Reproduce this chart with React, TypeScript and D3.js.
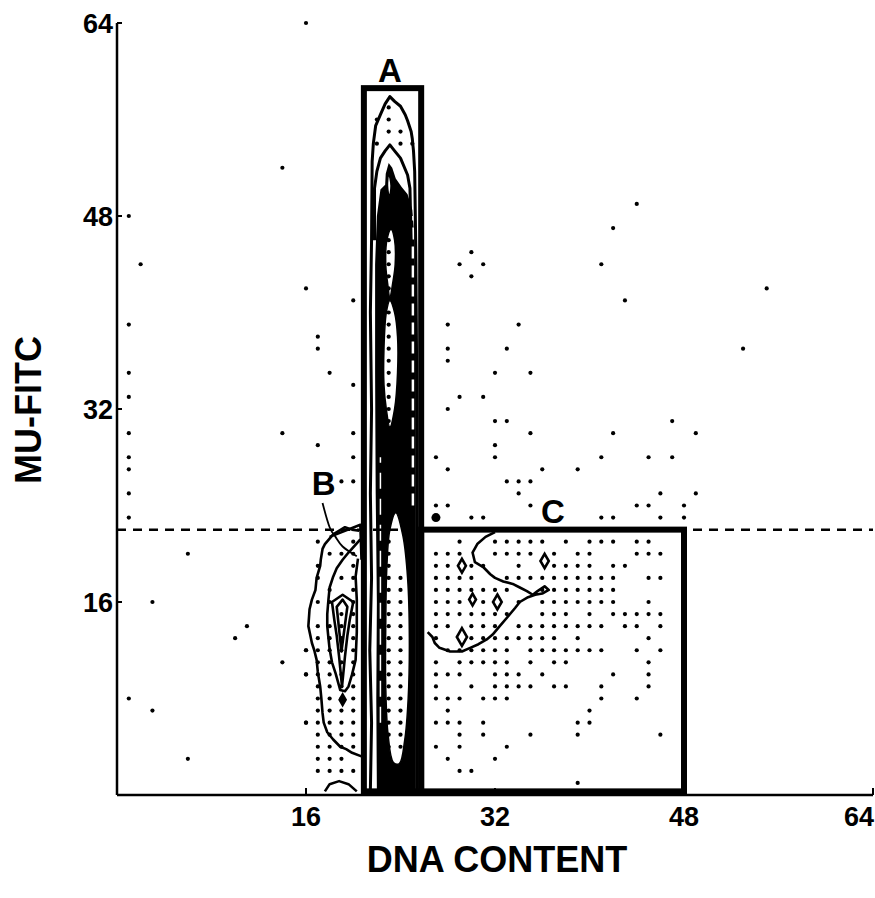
import React from "react";
import * as d3 from "d3";

type P = [number, number];

const W = 875;
const H = 898;
const xTicks = [16, 32, 48, 64];
const yTicks = [16, 32, 48, 64];
const xTitle = "DNA CONTENT";
const yTitle = "MU-FITC";

// gates in channel units: [xmin, xmax, ymin, ymax]
const gateA = [20.9, 25.75, 0.3, 58.6];
const gateC = [25.75, 48, 0.3, 22];
const threshold = 22;
const gateLabels: [string, number, number][] = [
  ["A", 23.1, 59.1],
  ["B", 17.5, 24.9],
  ["C", 36.9, 22.55],
];

// sparse single events
const sparseDots: P[] = [
  [44, 49], [42, 47], [30, 45], [29, 44], [31, 44], [30, 43], [41, 44], [43, 41], [55, 42],
  [28, 39], [34, 39], [28, 37], [33, 37], [53, 37], [28, 36], [32, 35], [35, 35], [29, 33],
  [31, 33], [28, 32], [32, 31], [33, 31], [47, 31], [42, 30], [49, 30], [35, 30], [32, 29],
  [27, 28], [32, 28], [41, 28], [45, 28], [47, 28], [28, 27], [36, 27], [39, 27], [33, 26],
  [34, 26], [35, 26], [34, 25], [46, 25], [49, 25], [27, 24], [28, 24], [35, 24], [44, 24],
  [45, 24], [48, 24], [30, 23], [31, 23], [41, 23], [42, 23], [46, 23], [48, 23],
  [16, 64], [14, 52], [1, 48], [2, 44], [16, 42], [20, 41], [1, 39], [17, 38], [17, 37],
  [1, 35], [18, 35], [1, 33], [20, 34], [1, 30], [14, 30], [20, 30], [17, 29], [1, 28],
  [20, 28], [1, 27], [19, 26], [20, 26], [1, 25], [1, 23],
  [6, 20], [3, 16], [11, 14], [10, 13], [14, 11], [16, 12], [16, 10], [1, 8], [3, 7], [16, 6], [6, 3],
];
const bigDots: P[] = [[27, 23]];

// population B events, per row: [channel y, channels x]
const dotsB: [number, number[]][] = [
  [21, [17, 20]], [20, [18, 19, 20]], [19, [17, 20]], [18, [17, 19, 20]], [17, [18, 20]],
  [16, [17, 18, 20]], [15, [19, 20]], [14, [17, 18, 19, 20]], [13, [17, 18, 19, 20]],
  [12, [16, 17, 18, 19, 20]], [11, [17, 18, 19, 20]], [10, [16, 17, 18, 19, 20]],
  [9, [17, 18, 19, 20]], [8, [17, 18, 19, 20]], [7, [17, 18, 19, 20]], [6, [16, 17, 18, 19, 20]],
  [5, [17, 18, 19, 20]], [4, [17, 18, 19, 20]], [3, [17, 18, 19]], [2, [17, 18, 19, 20]],
];

// population C events
const dotsC: [number, number[]][] = [
  [21, [29, 32, 33, 34, 35, 36, 38, 40, 41, 42, 44, 45]],
  [20, [27, 28, 29, 32, 33, 34, 35, 37, 39, 40, 44, 45, 46]],
  [19, [27, 28, 30, 31, 34, 37, 38, 39, 40, 42, 43]],
  [18, [27, 28, 29, 30, 33, 34, 35, 36, 37, 38, 39, 40, 41, 42, 45, 46]],
  [17, [27, 28, 29, 30, 31, 32, 33, 36, 37, 38, 39, 40, 41, 42]],
  [16, [27, 28, 29, 31, 34, 36, 37, 38, 39, 40, 41, 42, 45]],
  [15, [27, 28, 29, 30, 31, 32, 33, 36, 37, 38, 40, 42, 43, 44, 45, 46]],
  [14, [27, 28, 30, 31, 32, 34, 35, 36, 37, 38, 39, 40, 41, 43, 44, 46]],
  [13, [27, 30, 31, 32, 33, 34, 35, 36, 37, 39, 45]],
  [12, [28, 29, 30, 31, 32, 33, 35, 36, 37, 38, 39, 40, 41, 44, 46]],
  [11, [27, 29, 30, 31, 32, 33, 35, 37, 38, 45]],
  [10, [27, 28, 29, 32, 33, 34, 36, 42, 45]],
  [9, [27, 30, 32, 33, 34, 35, 37, 38, 41, 45]],
  [8, [27, 28, 29, 31, 32, 33, 41, 44]],
  [7, [28, 40]],
  [6, [27, 28, 29, 31, 39, 40]],
  [5, [29, 31, 35, 39, 46]],
  [4, [27, 29, 33]],
  [3, [28, 32]],
  [2, [29, 30]],
  [1, [39]],
];

// population A events visible inside the contour holes
const dotsA: [number, number[]][] = [
  [57, [23]], [56, [22, 23]], [55, [23, 24]], [54, [22, 24, 25]],
  [46, [23]], [45, [23]], [44, [23]], [43, [23]], [42, [23]],
  [40, [23]], [39, [23]], [38, [23]], [37, [23]], [36, [23]], [35, [23]], [34, [23]],
  [33, [23]], [32, [23]], [31, [23]],
  [22, [23]], [21, [23]], [20, [23]], [19, [23]],
  [18, [23, 24]], [17, [23, 24]], [16, [23, 24]], [15, [23, 24]], [14, [23, 24]], [13, [23, 24]],
  [12, [23, 24]], [11, [23, 24]], [10, [23, 24]], [9, [23, 24]], [8, [23, 24]], [7, [23, 24]],
  [6, [23, 24]], [5, [23, 24]], [4, [23, 24]],
];

// contours of population A
const contourA1: P[] = [
  [21.45, 0.4], [21.55, 6], [21.4, 12], [21.55, 18], [21.45, 25], [21.55, 32], [21.45, 40], [21.55, 46],
  [21.6, 52.5], [21.7, 54], [21.9, 55.5], [22.3, 56.4], [22.7, 57.3], [23.1, 57.9], [23.5, 57.5],
  [24.0, 57.1], [24.4, 56.4], [24.6, 55.9], [24.9, 55], [25.0, 54.4], [25.1, 53.4], [25.2, 51.7],
  [25.3, 45], [25.4, 30], [25.4, 0.4],
];
const contourA2: P[] = [
  [21.8, 46], [21.8, 50.3], [22.0, 51.7], [22.3, 52.8], [22.7, 53.4], [23.1, 53.9], [23.5, 53.4],
  [24.0, 52.8], [24.6, 51.4], [24.8, 50.3], [24.9, 46],
];
const coreA: P[] = [
  [22.0, 0.3], [21.95, 8], [22.0, 16], [21.9, 25], [21.85, 35], [21.85, 44], [22.0, 48],
  [22.3, 50.2], [22.7, 50.6], [22.75, 51.5], [23.0, 52.4], [23.3, 52.0], [23.6, 51.1],
  [24.1, 50.4], [24.6, 49.8], [25.0, 48.5], [25.2, 46], [25.3, 35], [25.3, 20], [25.3, 0.3],
];
const holesA: P[][] = [
  [[23.0, 51.5], [22.9, 50.5], [23.05, 49.6], [23.2, 50.5]],
  [[23.2, 46.9], [22.85, 46], [22.75, 44], [22.9, 42.5], [23.1, 41.3], [23.35, 42.5], [23.55, 44], [23.5, 46]],
  [[23.1, 41.0], [22.8, 40], [22.6, 37], [22.6, 34], [22.8, 32], [23.1, 30.5], [23.5, 32], [23.75, 35], [23.75, 38], [23.5, 40]],
  [[23.6, 23.4], [23.1, 22], [22.85, 19], [22.75, 14], [22.75, 9], [22.95, 5], [23.4, 2.7], [23.9, 2.6], [24.35, 4.5], [24.65, 8], [24.75, 13], [24.6, 18], [24.2, 21.5]],
];

// contours of population B
const contourB1: P[] = [
  [20.5, 21.9], [19.9, 22.0], [19.3, 22.2], [18.3, 21.6], [17.6, 20.8], [17.4, 20.4], [17.25, 19.5],
  [17.2, 19.0], [16.9, 18.0], [16.8, 17.0], [16.5, 16.2], [16.3, 15.4], [16.2, 14.0], [16.35, 13.3],
  [16.5, 12.6], [16.7, 12.0], [16.9, 11.2], [17.0, 10.2], [17.2, 9.0], [17.3, 8.0], [17.4, 6.8],
  [17.5, 6.0], [17.8, 5.2], [18.3, 4.6], [18.9, 4.0], [19.4, 3.8], [19.9, 3.5], [20.7, 3.2],
];
const contourB2: P[] = [
  [20.6, 21.2], [19.6, 20.1], [19.1, 19.5], [18.6, 18.8], [18.3, 18.1], [18.0, 17.2], [17.9, 16.2],
  [17.8, 15.0], [17.8, 14.0], [17.9, 13.0], [18.0, 12.1], [18.2, 11.0], [18.5, 10.1], [18.9, 8.7],
  [19.3, 8.6], [19.6, 9.0], [19.9, 10.0], [20.2, 11.2], [20.3, 13.5], [20.3, 16.2], [20.2, 18.1],
  [20.4, 19.6],
];
const contourB3: P[] = [
  [19.1, 16.6], [18.2, 16.0], [18.4, 14.5], [18.6, 13.2], [18.8, 11.5], [19.05, 9.0],
  [19.3, 11.5], [19.5, 13.2], [19.7, 14.5], [20.0, 16.0],
];
const contourB4: P[] = [[19.1, 16.2], [18.6, 15.6], [19.0, 11.9], [19.5, 15.6]];
const contourB5: P[] = [[17.6, 0.3], [18.0, 0.9], [18.8, 1.15], [19.6, 0.9], [20.3, 0.3]];
const contourB6: P[] = [[18.0, 21.4], [20.6, 22.4], [20.7, 19.5]];
const pointerB: P[] = [[17.4, 24.2], [18.0, 22.2], [18.5, 21.4], [19.1, 20.6], [20.3, 19.8]];

// contour of population C
const contourC1: P[] = [
  [32.0, 21.8], [31.2, 21.4], [30.5, 20.8], [30.1, 20.1], [30.3, 19.3], [31.0, 18.9], [31.6, 18.3],
  [32.0, 18.0], [32.7, 17.7], [33.5, 17.5], [34.1, 17.2], [34.7, 16.9], [35.2, 16.6], [35.6, 16.9],
  [36.2, 17.3], [36.55, 17.0], [36.0, 16.7], [35.4, 16.6], [34.8, 16.4], [34.1, 16.0], [33.7, 15.5],
  [33.1, 14.8], [32.4, 14.0], [31.8, 13.3], [31.3, 12.9], [30.6, 12.5], [29.9, 12.2], [29.2, 11.9],
  [28.2, 11.9], [27.3, 12.2], [26.9, 12.6], [26.7, 13.1], [26.3, 13.5],
];
// small peak contours: [x, y, size]
const peaks: [number, number, number][] = [
  [29.2, 19.0, 55], [30.1, 16.2, 40], [32.2, 16.0, 65], [29.2, 13.1, 90], [36.2, 19.4, 60],
  [19.1, 7.9, 30],
];

export default function App() {
  const x = d3.scaleLinear().domain([0, 64]).range([117, 873]);
  const y = d3.scaleLinear().domain([0, 64]).range([795, 23]);
  const line = d3.line<P>().x((d) => x(d[0])).y((d) => y(d[1]));
  const closed = d3.line<P>().x((d) => x(d[0])).y((d) => y(d[1])).curve(d3.curveLinearClosed);
  const smooth = d3.line<P>().x((d) => x(d[0])).y((d) => y(d[1])).curve(d3.curveCatmullRomClosed);
  const curve = d3.line<P>().x((d) => x(d[0])).y((d) => y(d[1])).curve(d3.curveNatural);
  const rows = (r: [number, number[]][]): P[] => r.flatMap(([yy, xs]) => xs.map((xx) => [xx, yy] as P));
  const diamond = (s: number) => d3.symbol().type(d3.symbolDiamond).size(s)() || "";

  const font = "'Liberation Sans', Arial, Helvetica, sans-serif";
  const allDots: P[] = [...sparseDots, ...rows(dotsB), ...rows(dotsC)];

  return (
    <svg width={W} height={H} style={{ position: "absolute", left: 0, top: 0, background: "#fff" }}>
      <rect x={0} y={0} width={W} height={H} fill="#fff" />
      {/* scattered events */}
      {allDots.map((d, i) => (
        <circle key={"d" + i} cx={x(d[0])} cy={y(d[1])} r={2.1} fill="#000" />
      ))}
      {bigDots.map((d, i) => (
        <circle key={"bd" + i} cx={x(d[0])} cy={y(d[1])} r={4.5} fill="#000" />
      ))}

      {/* population A */}
      <path d={closed(coreA) || ""} fill="#000" />
      {holesA.map((h, i) => (
        <path key={"h" + i} d={smooth(h) || ""} fill="#fff" stroke="#000" strokeWidth={1.5} />
      ))}
      <path d={line([[25.05, 24], [25.05, 48]]) || ""} stroke="#fff" strokeWidth={2.5} strokeDasharray="12 7" />
      <path d={line([[22.3, 6], [22.3, 28]]) || ""} stroke="#fff" strokeWidth={1.5} strokeDasharray="16 10" />
      <path d={line(contourA1) || ""} fill="none" stroke="#000" strokeWidth={3} strokeLinejoin="round" />
      <path d={line(contourA2) || ""} fill="none" stroke="#000" strokeWidth={3} strokeLinejoin="round" />
      {rows(dotsA).map((d, i) => (
        <circle key={"a" + i} cx={x(d[0])} cy={y(d[1])} r={2.1} fill="#000" />
      ))}

      {/* population B */}
      {[contourB1, contourB2, contourB5, contourB6].map((c, i) => (
        <path key={"b" + i} d={line(c) || ""} fill="none" stroke="#000" strokeWidth={2.6} strokeLinejoin="round" />
      ))}
      {[contourB3, contourB4].map((c, i) => (
        <path key={"bc" + i} d={closed(c) || ""} fill="none" stroke="#000" strokeWidth={2.6} strokeLinejoin="round" />
      ))}
      <path d={curve(pointerB) || ""} fill="none" stroke="#000" strokeWidth={1.8} />

      {/* population C */}
      <path d={line(contourC1) || ""} fill="none" stroke="#000" strokeWidth={2.6} strokeLinejoin="round" />
      {peaks.map((p, i) => (
        <path
          key={"p" + i}
          d={diamond(p[2])}
          transform={`translate(${x(p[0])},${y(p[1])})`}
          fill={i === peaks.length - 1 ? "#000" : "none"}
          stroke="#000"
          strokeWidth={2.6}
        />
      ))}

      {/* threshold */}
      <line x1={x(0)} x2={x(64)} y1={y(threshold)} y2={y(threshold)} stroke="#000" strokeWidth={2.5} strokeDasharray="9 7" />

      {/* gates */}
      <rect
        x={x(gateC[0])}
        y={y(gateC[3])}
        width={x(gateC[1]) - x(gateC[0])}
        height={y(gateC[2]) - y(gateC[3])}
        fill="none"
        stroke="#000"
        strokeWidth={6}
      />
      <rect
        x={x(gateA[0])}
        y={y(gateA[3])}
        width={x(gateA[1]) - x(gateA[0])}
        height={y(gateA[2]) - y(gateA[3])}
        fill="none"
        stroke="#000"
        strokeWidth={6}
      />
      {gateLabels.map(([t, gx, gy]) => (
        <text key={t} x={x(gx)} y={y(gy)} textAnchor="middle" fontFamily={font} fontWeight="bold" fontSize={33}>
          {t}
        </text>
      ))}

      {/* axes */}
      <line x1={x(0)} x2={x(0)} y1={y(0)} y2={y(64)} stroke="#000" strokeWidth={2.5} />
      <line x1={x(0)} x2={x(64)} y1={y(0)} y2={y(0)} stroke="#000" strokeWidth={2.5} />
      {yTicks.map((t) => (
        <g key={"yt" + t}>
          <line x1={x(0)} x2={x(0) + 5} y1={y(t)} y2={y(t)} stroke="#000" strokeWidth={2} />
          <text x={x(0) - 4} y={y(t) + 10} textAnchor="end" fontFamily={font} fontWeight="bold" fontSize={27}>
            {t}
          </text>
        </g>
      ))}
      {xTicks.map((t) => (
        <g key={"xt" + t}>
          <line x1={x(t)} x2={x(t)} y1={y(0)} y2={y(0) - 7} stroke="#000" strokeWidth={2} />
          <text
            x={t === 64 ? x(t) + 1 : x(t)}
            y={y(0) + 31}
            textAnchor={t === 64 ? "end" : "middle"}
            fontFamily={font}
            fontWeight="bold"
            fontSize={27}
          >
            {t}
          </text>
        </g>
      ))}
      <text x={497} y={872} textAnchor="middle" fontFamily={font} fontWeight="bold" fontSize={36}>
        {xTitle}
      </text>
      <text
        transform={`translate(41,410) rotate(-90)`}
        textAnchor="middle"
        fontFamily={font}
        fontWeight="bold"
        fontSize={36}
      >
        {yTitle}
      </text>
    </svg>
  );
}
